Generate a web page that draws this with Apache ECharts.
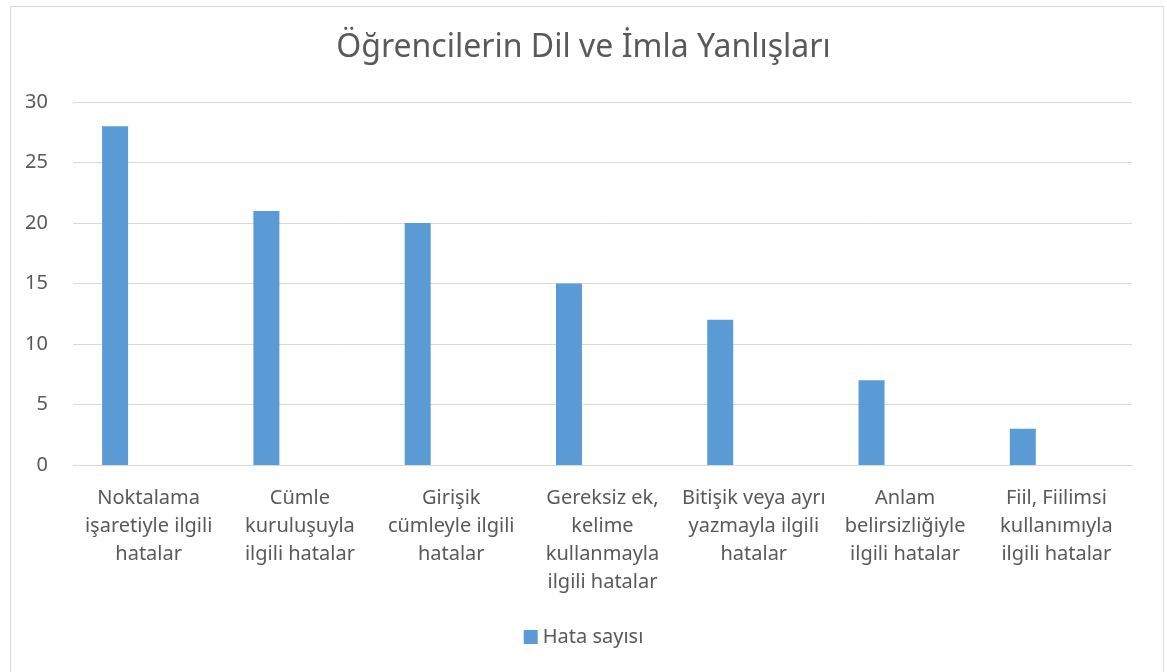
<!DOCTYPE html>
<html>
<head>
<meta charset="utf-8">
<script src="https://cdn.jsdelivr.net/npm/echarts@6/dist/echarts.min.js"></script>
<style>
html,body{margin:0;padding:0;background:#fff;}
#chart{width:1167px;height:672px;}
</style>
</head>
<body>
<div id="chart"></div>
<script>
const titleText = 'Öğrencilerin Dil ve İmla Yanlışları';
const categories = [
  'Noktalama\nişaretiyle ilgili\nhatalar',
  'Cümle\nkuruluşuyla\nilgili hatalar',
  'Girişik\ncümleyle ilgili\nhatalar',
  'Gereksiz ek,\nkelime\nkullanmayla\nilgili hatalar',
  'Bitişik veya ayrı\nyazmayla ilgili\nhatalar',
  'Anlam\nbelirsizliğiyle\nilgili hatalar',
  'Fiil, Fiilimsi\nkullanımıyla\nilgili hatalar'
];
const seriesName = 'Hata sayısı';
const hataSayisi = [28, 21, 20, 15, 12, 7, 3];
const emptySeries = [null, null, null, null, null, null, null];

const chart = echarts.init(document.getElementById('chart'), null, {renderer:'canvas'});
const font = 'Noto Sans';
chart.setOption({
  animation: false,
  backgroundColor: '#fff',
  textStyle: {fontFamily: font},
  graphic: [{
    type: 'rect', left: 8, top: 4,
    shape: {width: 1153, height: 667},
    style: {fill: 'none', stroke: '#d9d9d9', lineWidth: 1}
  }],
  title: {
    text: titleText, left: 'center', top: 27,
    textStyle: {fontFamily: font, fontSize: 32, fontWeight: 'normal', color: '#595959'}
  },
  legend: {
    data: [{name: seriesName, icon: 'rect'}], bottom: 20, left: 'center',
    itemWidth: 14, itemHeight: 14, itemGap: 6,
    textStyle: {fontFamily: font, fontSize: 20, color: '#595959'}
  },
  grid: {left: 73, right: 35, top: 102, bottom: 207, containLabel: false},
  xAxis: {
    type: 'category', data: categories,
    axisLine: {lineStyle: {color: '#d9d9d9', width: 1}},
    axisTick: {show: false},
    axisLabel: {interval: 0, margin: 19, color: '#595959', fontSize: 20, lineHeight: 28, fontFamily: font}
  },
  yAxis: {
    type: 'value', min: 0, max: 30, interval: 5,
    axisLine: {show: false}, axisTick: {show: false},
    splitLine: {lineStyle: {color: '#d9d9d9', width: 1}},
    axisLabel: {color: '#595959', fontSize: 20, margin: 25, fontFamily: font}
  },
  series: [
    {name: seriesName, type: 'bar', data: hataSayisi, barWidth: 26, barGap: '158%',
     itemStyle: {color: '#5b9bd5'}},
    {name: '_empty', type: 'bar', data: emptySeries, barWidth: 26,
     itemStyle: {color: '#ed7d31'}}
  ]
});
</script>
</body>
</html>
